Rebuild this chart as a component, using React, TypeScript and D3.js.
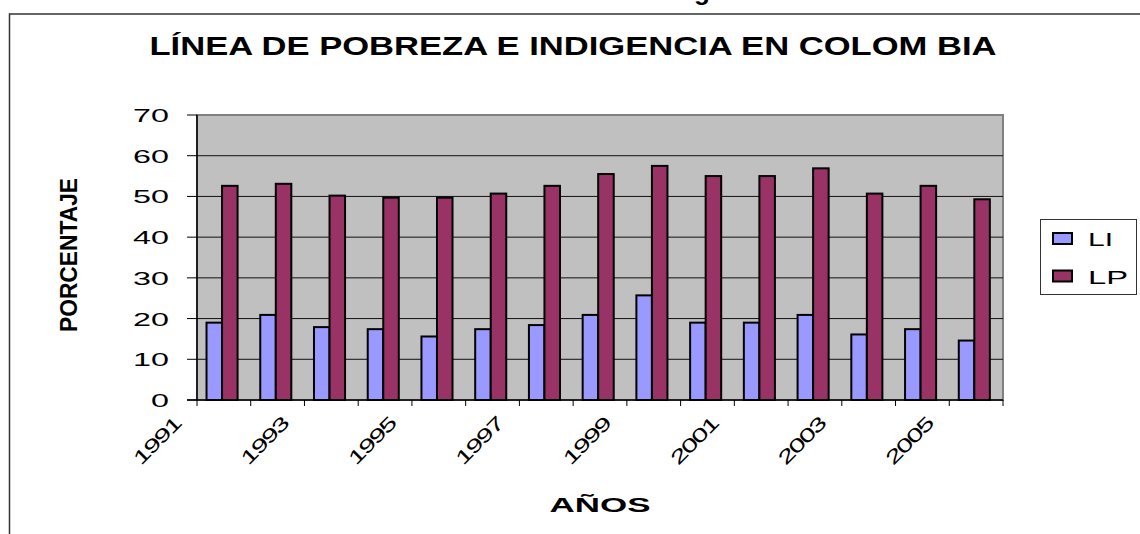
import React, { useEffect, useRef } from "react";
import * as d3 from "d3";

// datos
const years = [
  "1991", "1992", "1993", "1994", "1995", "1996", "1997", "1998",
  "1999", "2000", "2001", "2002", "2003", "2004", "2005",
];
const seriesNames = ["LI", "LP"];
const liValues = [19.0, 20.9, 17.9, 17.4, 15.6, 17.4, 18.4, 20.9, 25.7, 19.0, 19.0, 20.9, 16.1, 17.4, 14.6];
const lpValues = [52.6, 53.1, 50.2, 49.7, 49.7, 50.7, 52.6, 55.5, 57.5, 55.0, 55.0, 56.9, 50.7, 52.6, 49.3];
const yTicks = [0, 10, 20, 30, 40, 50, 60, 70];
const colors = ["#9999FF", "#993366"];

const W = 1140;
const H = 534;

const App: React.FC = () => {
  const svgRef = useRef<SVGSVGElement>(null);

  useEffect(() => {
    if (!svgRef.current) return;
    const svg = d3.select(svgRef.current);
    svg.selectAll("*").remove();

    const font = "'Liberation Sans', Arial, sans-serif";

    // área del gráfico
    const left = 197;
    const right = 1003;
    const top = 115;
    const bottom = 400;

    const x = d3.scaleBand<string>().domain(years).range([left, right]).padding(0);
    const xs = d3
      .scaleBand<string>()
      .domain(seriesNames)
      .range([0, x.bandwidth()])
      .paddingInner(0)
      .paddingOuter(0.73)
      .align(0.42);
    const y = d3.scaleLinear().domain([0, 70]).range([bottom, top]);

    // borde exterior
    svg
      .append("rect")
      .attr("x", 9.5)
      .attr("y", 14)
      .attr("width", 1200)
      .attr("height", 600)
      .attr("fill", "none")
      .attr("stroke", "#333")
      .attr("stroke-width", 1.5);

    // resto de un texto cortado arriba (también cortado en el original)
    svg
      .append("text")
      .attr("x", 702)
      .attr("y", 0)
      .attr("text-anchor", "middle")
      .style("font-family", font)
      .style("font-weight", "bold")
      .style("font-size", "26px")
      .text("g");

    // fondo gris
    svg
      .append("rect")
      .attr("x", left)
      .attr("y", top)
      .attr("width", right - left)
      .attr("height", bottom - top)
      .attr("fill", "#C0C0C0")
      .attr("stroke", "#808080")
      .attr("stroke-width", 2);

    // líneas de división
    svg
      .append("g")
      .selectAll("line")
      .data(yTicks.filter((t) => t > 0 && t < 70))
      .enter()
      .append("line")
      .attr("x1", left)
      .attr("x2", right)
      .attr("y1", (d) => y(d))
      .attr("y2", (d) => y(d))
      .attr("stroke", "#111")
      .attr("stroke-width", 1);

    // barras
    const groups = svg
      .append("g")
      .selectAll("g")
      .data(years)
      .enter()
      .append("g")
      .attr("transform", (d) => `translate(${x(d)},0)`);

    groups
      .selectAll("rect")
      .data((_, i) => [
        { key: "LI", value: liValues[i], color: colors[0] },
        { key: "LP", value: lpValues[i], color: colors[1] },
      ])
      .enter()
      .append("rect")
      .attr("x", (d) => xs(d.key) as number)
      .attr("y", (d) => y(d.value))
      .attr("width", xs.bandwidth())
      .attr("height", (d) => bottom - y(d.value))
      .attr("fill", (d) => d.color)
      .attr("stroke", "#000")
      .attr("stroke-width", 2);

    // eje Y
    const yAxis = svg.append("g");
    yAxis
      .append("line")
      .attr("x1", left)
      .attr("x2", left)
      .attr("y1", top)
      .attr("y2", bottom)
      .attr("stroke", "#000")
      .attr("stroke-width", 1.5);
    yAxis
      .selectAll(".tick")
      .data(yTicks)
      .enter()
      .append("line")
      .attr("x1", left - 10)
      .attr("x2", left)
      .attr("y1", (d) => y(d))
      .attr("y2", (d) => y(d))
      .attr("stroke", "#000")
      .attr("stroke-width", 1);
    yAxis
      .selectAll(".lbl")
      .data(yTicks)
      .enter()
      .append("text")
      .attr("transform", (d) => `translate(169,${y(d) + 7}) scale(1.7,1)`)
      .attr("text-anchor", "end")
      .style("font-family", font)
      .style("font-size", "19px")
      .style("fill", "#000")
      .text((d) => d);

    // eje X
    const xAxis = svg.append("g");
    xAxis
      .append("line")
      .attr("x1", left - 10)
      .attr("x2", right)
      .attr("y1", bottom)
      .attr("y2", bottom)
      .attr("stroke", "#000")
      .attr("stroke-width", 1.5);
    const boundaries = [...years.map((d) => x(d) as number), right];
    xAxis
      .selectAll(".tick")
      .data(boundaries)
      .enter()
      .append("line")
      .attr("x1", (d) => d)
      .attr("x2", (d) => d)
      .attr("y1", bottom)
      .attr("y2", bottom + 6)
      .attr("stroke", "#000")
      .attr("stroke-width", 1);
    xAxis
      .selectAll(".lbl")
      .data(years.filter((_, i) => i % 2 === 0))
      .enter()
      .append("text")
      .attr(
        "transform",
        (d) => `translate(${(x(d) as number) - 15},425) rotate(-45) scale(1.55,1)`
      )
      .attr("text-anchor", "end")
      .style("font-family", font)
      .style("font-size", "19px")
      .style("letter-spacing", "-1.2px")
      .style("fill", "#000")
      .text((d) => d);

    // títulos
    svg
      .append("text")
      .attr("x", 573)
      .attr("y", 55)
      .attr("text-anchor", "middle")
      .attr("textLength", 847)
      .attr("lengthAdjust", "spacingAndGlyphs")
      .style("font-family", font)
      .style("font-weight", "bold")
      .style("font-size", "26px")
      .text("LÍNEA DE POBREZA E INDIGENCIA EN COLOM BIA");

    svg
      .append("text")
      .attr("transform", "translate(77,255) rotate(-90)")
      .attr("text-anchor", "middle")
      .attr("textLength", 154)
      .attr("lengthAdjust", "spacingAndGlyphs")
      .style("font-family", font)
      .style("font-weight", "bold")
      .style("font-size", "24px")
      .text("PORCENTAJE");

    svg
      .append("text")
      .attr("x", 600)
      .attr("y", 512)
      .attr("text-anchor", "middle")
      .attr("textLength", 101)
      .attr("lengthAdjust", "spacingAndGlyphs")
      .style("font-family", font)
      .style("font-weight", "bold")
      .style("font-size", "20px")
      .text("AÑOS");

    // leyenda
    const legend = svg.append("g");
    legend
      .append("rect")
      .attr("x", 1040.5)
      .attr("y", 219.5)
      .attr("width", 96)
      .attr("height", 75)
      .attr("fill", "#fff")
      .attr("stroke", "#333")
      .attr("stroke-width", 1);
    const items = legend
      .selectAll(".item")
      .data(seriesNames)
      .enter()
      .append("g")
      .attr("transform", (_, i) => `translate(1053,${233 + i * 37.5})`);
    items
      .append("rect")
      .attr("width", 19)
      .attr("height", 11)
      .attr("fill", (_, i) => colors[i])
      .attr("stroke", "#000")
      .attr("stroke-width", 2);
    items
      .append("text")
      .attr("x", 35)
      .attr("y", 13)
      .attr("textLength", (d) => (d === "LI" ? 25 : 40))
      .attr("lengthAdjust", "spacingAndGlyphs")
      .style("font-family", font)
      .style("font-size", "19px")
      .style("fill", "#000")
      .text((d) => d);
  }, []);

  return (
    <div style={{ position: "absolute", left: 0, top: 0, background: "#fff" }}>
      <svg ref={svgRef} width={W} height={H} style={{ display: "block" }} />
    </div>
  );
};

export default App;
